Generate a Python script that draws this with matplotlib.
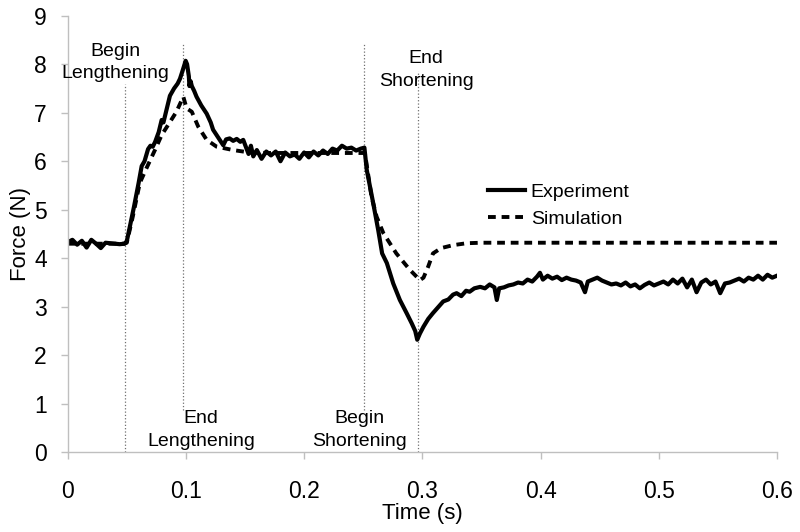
import matplotlib
matplotlib.use("Agg")
import matplotlib.pyplot as plt

plt.rcParams['font.family'] = ['Liberation Sans', 'DejaVu Sans']

exp_t = [0.000, 0.004, 0.008, 0.012, 0.016, 0.020, 0.024, 0.028, 0.032, 0.036, 0.040, 0.044, 0.048,
         0.050, 0.053, 0.056, 0.058, 0.060, 0.0626, 0.065, 0.068, 0.070, 0.072, 0.074, 0.077, 0.0795,
         0.081, 0.083, 0.0865, 0.090, 0.093, 0.095, 0.097, 0.0998, 0.101, 0.1025, 0.103, 0.104, 0.105,
         0.107, 0.109, 0.113, 0.1176, 0.121, 0.123, 0.127, 0.1316, 0.134, 0.137, 0.140, 0.143, 0.146,
         0.1485, 0.151, 0.153, 0.155, 0.157,
         0.160, 0.164, 0.168, 0.172, 0.176, 0.180, 0.184, 0.188, 0.192, 0.196, 0.200, 0.204, 0.208,
         0.212, 0.216, 0.220, 0.224, 0.228, 0.232, 0.236, 0.240, 0.244, 0.248, 0.251,
         0.253, 0.2585, 0.2627, 0.266, 0.270, 0.2754, 0.281, 0.2867, 0.291, 0.294, 0.2957, 0.298,
         0.301, 0.305, 0.309, 0.313, 0.3177, 0.322, 0.326, 0.329, 0.333, 0.337, 0.340, 0.344, 0.349,
         0.353, 0.357, 0.361, 0.363, 0.365, 0.369, 0.373, 0.377, 0.381, 0.385, 0.389, 0.393, 0.397,
         0.3995, 0.402, 0.406, 0.410, 0.414, 0.418, 0.422, 0.426, 0.430, 0.434, 0.4376, 0.440, 0.444,
         0.448, 0.452, 0.456, 0.460, 0.464, 0.468, 0.472, 0.476, 0.480, 0.484, 0.488, 0.492, 0.496,
         0.500, 0.504, 0.508, 0.512, 0.516, 0.520, 0.524, 0.528, 0.532, 0.536, 0.540, 0.544, 0.548,
         0.552, 0.556, 0.560, 0.564, 0.568, 0.572, 0.576, 0.580, 0.584, 0.588, 0.592, 0.596, 0.600]
exp_f = [4.33, 4.38, 4.28, 4.36, 4.22, 4.38, 4.30, 4.21, 4.32, 4.31, 4.30, 4.29, 4.30,
         4.35, 4.70, 5.05, 5.30, 5.55, 5.90, 6.00, 6.25, 6.32, 6.30, 6.40, 6.60, 6.85,
         6.80, 7.00, 7.35, 7.50, 7.60, 7.70, 7.85, 8.07, 8.00, 7.75, 7.55, 7.65, 7.55,
         7.45, 7.33, 7.15, 6.98, 6.80, 6.65, 6.50, 6.33, 6.45, 6.47, 6.42, 6.46, 6.40,
         6.44, 6.28, 6.15, 6.32, 6.10,
         6.23, 6.05, 6.20, 6.12, 6.20, 6.00, 6.18, 6.10, 6.14, 6.05, 6.18, 6.08, 6.20,
         6.12, 6.22, 6.15, 6.26, 6.22, 6.32, 6.26, 6.28, 6.22, 6.26, 6.28,
         5.82, 5.13, 4.58, 4.10, 3.90, 3.48, 3.14, 2.87, 2.66, 2.50, 2.32, 2.45,
         2.59, 2.75, 2.87, 2.98, 3.11, 3.15, 3.25, 3.28, 3.22, 3.33, 3.31, 3.38, 3.41,
         3.38, 3.46, 3.40, 3.14, 3.38, 3.40, 3.44, 3.46, 3.50, 3.48, 3.56, 3.52, 3.62,
         3.70, 3.56, 3.64, 3.58, 3.62, 3.55, 3.60, 3.56, 3.54, 3.50, 3.30, 3.52, 3.56,
         3.60, 3.54, 3.50, 3.46, 3.48, 3.44, 3.50, 3.42, 3.46, 3.38, 3.45, 3.50, 3.44,
         3.48, 3.52, 3.46, 3.56, 3.48, 3.58, 3.40, 3.56, 3.30, 3.50, 3.56, 3.46, 3.52,
         3.28, 3.48, 3.50, 3.54, 3.58, 3.52, 3.60, 3.56, 3.64, 3.56, 3.66, 3.60, 3.64]

# Simulation (model force)
sim_t = [0.000, 0.048, 0.050, 0.055, 0.061, 0.0654, 0.0738, 0.0795, 0.085, 0.092, 0.0978, 0.1006,
         0.105, 0.1105, 0.1176, 0.126, 0.140, 0.154, 0.170, 0.250, 0.2515, 0.257, 0.2613, 0.267,
         0.278, 0.2895, 0.298, 0.301, 0.305, 0.309, 0.316, 0.326, 0.3375, 0.350, 0.600]
sim_f = [4.30, 4.30, 4.32, 4.85, 5.55, 5.79, 6.23, 6.54, 6.75, 7.02, 7.33, 7.09,
         7.02, 6.71, 6.44, 6.30, 6.23, 6.18, 6.17, 6.17, 6.16, 5.27, 4.86, 4.52,
         4.10, 3.76, 3.55, 3.60, 3.83, 4.10, 4.21, 4.27, 4.31, 4.32, 4.32]

# phase markers: time, line bottom, line top, label, label position
event_t = [0.0485, 0.0975, 0.251, 0.296]
event_lo = [0.0, 0.87, 0.87, 0.0]
event_hi = [7.6, 8.42, 8.42, 7.85]
event_labels = ["Begin\nLengthening", "End\nLengthening", "Begin\nShortening", "End\nShortening"]
label_x = [0.040, 0.113, 0.2467, 0.3033]
label_y = [8.04, 0.46, 0.46, 7.88]

fig = plt.figure(figsize=(8, 5.32), dpi=100)
ax = fig.add_axes([0.0846, 0.1498, 0.8866, 0.8207])

for t, lo, hi in zip(event_t, event_lo, event_hi):
    ax.vlines(t, lo, hi, colors='#707070', linestyles=':', linewidth=0.9)
for x, y, s in zip(label_x, label_y, event_labels):
    ax.text(x, y, s, ha='center', va='center', fontsize=14, linespacing=1.4)

ax.plot(exp_t, exp_f, color='black', linewidth=3.0, label='Experiment')
ax.plot(sim_t, sim_f, color='black', linewidth=2.8, linestyle=(0, (2.0, 1.5)), label='Simulation')

ax.set_xlim(0, 0.6)
ax.set_ylim(0, 9)
ax.set_xticks([0, 0.1, 0.2, 0.3, 0.4, 0.5, 0.6])
ax.set_xticklabels(['0', '0.1', '0.2', '0.3', '0.4', '0.5', '0.6'])
ax.set_yticks(range(0, 10))
ax.tick_params(axis='both', colors='#bfbfbf', labelcolor='black', labelsize=16.5, length=5, width=1)
ax.tick_params(axis='x', pad=15)
ax.tick_params(axis='y', pad=10)
for side in ['top', 'right']:
    ax.spines[side].set_visible(False)
for side in ['left', 'bottom']:
    ax.spines[side].set_color('#bfbfbf')
    ax.spines[side].set_linewidth(1)

ax.set_xlabel('Time (s)', fontsize=16, labelpad=0)
ax.set_ylabel('Force (N)', fontsize=16, labelpad=2)

ax.legend(loc='upper left', bbox_to_anchor=(0.61, 0.655), bbox_transform=fig.transFigure,
          frameon=False, fontsize=14, handlelength=1.9, handletextpad=0.3, borderpad=0,
          labelspacing=0.45, borderaxespad=0)

fig.savefig('out.png', dpi=100)
